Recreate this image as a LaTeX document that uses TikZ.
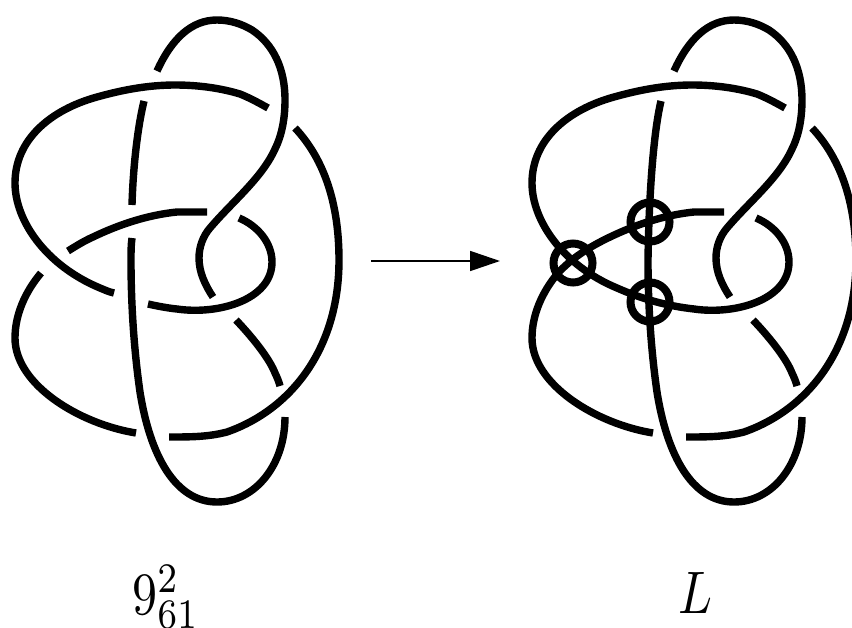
\documentclass[tikz,border=0pt]{standalone}
\usetikzlibrary{arrows.meta}
\tikzset{
  knot/.style={line width=7.4pt,black},
  ring/.style={line width=8pt,draw=black,circle,minimum size=39pt,inner sep=0pt},
  lab/.style={xscale=5.0,yscale=6,inner sep=0pt,anchor=base},
}
\begin{document}
\begin{tikzpicture}[x=1pt,y=-1pt]
\useasboundingbox (0,0) rectangle (852,627);
\clip (0,0) rectangle (852,627);
% ---------- left diagram
\begin{scope}
  \draw[knot] (157,71) .. controls (172,38) and (192,20) .. (217,20) .. controls (230,20) and (242,24) .. (252,30) .. controls (273,44) and (285,68) .. (285,100) .. controls (285,118) and (282,135) .. (275,149) .. controls (262,178) and (232,202) .. (210,228) .. controls (203,236) and (199,247) .. (199,258) .. controls (199,272) and (205,285) .. (213,297);
  \draw[knot] (268,108) .. controls (259,103) and (250,98) .. (240,94) .. controls (220,88) and (198,85) .. (175,85) .. controls (148,85) and (122,90) .. (97,97) .. controls (50,110) and (15,140) .. (15,183) .. controls (15,220) and (45,265) .. (100,288) .. controls (105,290) and (109,292) .. (114,293);
  \draw[knot] (148,304) .. controls (157,306) and (167,308) .. (177,309) .. controls (218,315) and (272,300) .. (272,262) .. controls (272,243) and (258,226) .. (239,218);
  \draw[knot] (207,212) .. controls (197,212) and (187,212) .. (177,212) .. controls (147,215) and (118,225) .. (93,237) .. controls (84,241) and (76,246) .. (68,251);
  \draw[knot] (41,273) .. controls (25,292) and (15,315) .. (15,338) .. controls (15,385) and (80,424) .. (136,433);
  \draw[knot] (132,238) .. controls (131,245) and (131,252) .. (131,260) .. controls (131,305) and (134,350) .. (140,392) .. controls (150,455) and (175,502) .. (217,502) .. controls (255,502) and (285,465) .. (285,417);
  \draw[knot] (144,101) .. controls (137,130) and (133,170) .. (132,205);
  \draw[knot] (295,128) .. controls (325,160) and (339,205) .. (339,260) .. controls (339,350) and (290,410) .. (227,432) .. controls (208,437) and (190,437) .. (169,437);
  \draw[knot] (236,320) .. controls (255,340) and (270,360) .. (275,373) .. controls (277,377) and (279,382) .. (280,386);
\end{scope}
% ---------- right diagram
\begin{scope}[xshift=517pt]
  \draw[knot] (157,71) .. controls (172,38) and (192,20) .. (217,20) .. controls (230,20) and (242,24) .. (252,30) .. controls (273,44) and (285,68) .. (285,100) .. controls (285,118) and (282,135) .. (275,149) .. controls (262,178) and (232,202) .. (210,228) .. controls (203,236) and (199,247) .. (199,258) .. controls (199,272) and (205,285) .. (213,297);
  \draw[knot] (268,108) .. controls (259,103) and (250,98) .. (240,94) .. controls (220,88) and (198,85) .. (175,85) .. controls (148,85) and (122,90) .. (97,97) .. controls (50,110) and (15,140) .. (15,183) .. controls (15,220) and (45,265) .. (100,288) .. controls (125,299) and (150,306) .. (177,309) .. controls (218,315) and (272,300) .. (272,262) .. controls (272,243) and (258,226) .. (239,218);
  \draw[knot] (207,212) .. controls (197,212) and (187,212) .. (177,212) .. controls (147,215) and (118,225) .. (93,237) .. controls (72,247) and (55,258) .. (41,273) .. controls (25,292) and (15,315) .. (15,338) .. controls (15,385) and (80,424) .. (136,433);
  \draw[knot] (144,101) .. controls (137,130) and (132,190) .. (131,260) .. controls (131,305) and (134,350) .. (140,392) .. controls (150,455) and (175,502) .. (217,502) .. controls (255,502) and (285,465) .. (285,417);
  \draw[knot] (295,128) .. controls (325,160) and (339,205) .. (339,260) .. controls (339,350) and (290,410) .. (227,432) .. controls (208,437) and (190,437) .. (169,437);
  \draw[knot] (236,320) .. controls (255,340) and (270,360) .. (275,373) .. controls (277,377) and (279,382) .. (280,386);
\end{scope}
\node[ring] (r1) at (573,263) {};
\node[ring] (r2) at (650,222) {};
\node[ring] (r3) at (650,302) {};
% arrow
\coordinate (as) at (371,261);
\coordinate (ae) at (500,261);
\draw[line width=1.7pt,-{Triangle[length=30pt,width=20pt]}] (as) -- (ae);
% labels
\node[lab] (l1) at (166,614) {$9^2_{61}$};
\node[lab] (l2) at (695.5,613) {$L$};
\end{tikzpicture}
\end{document}
